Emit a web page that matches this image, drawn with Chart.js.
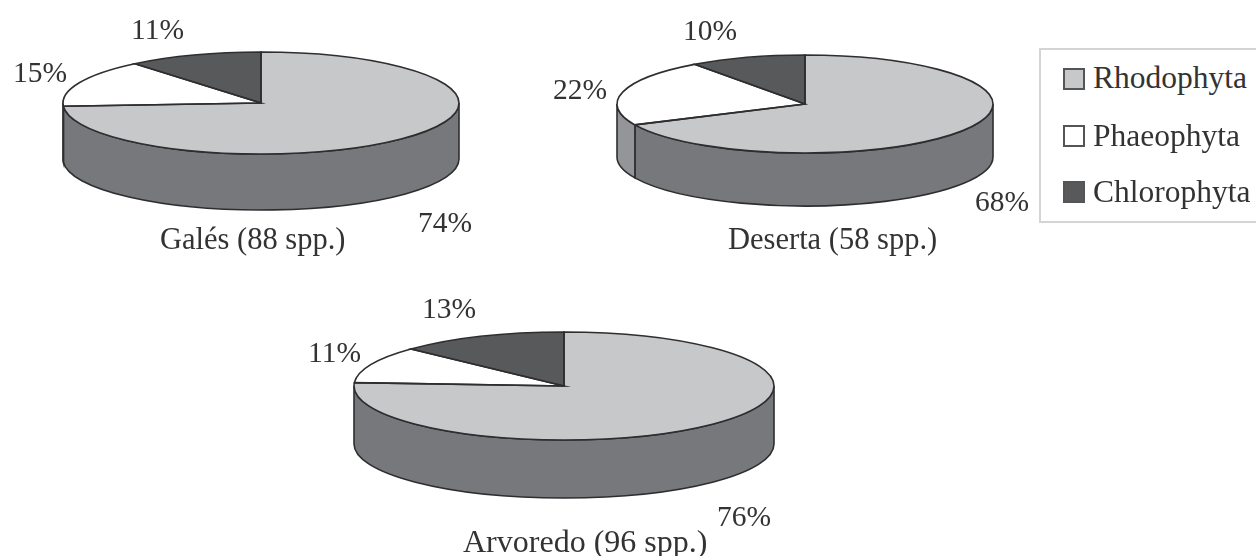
<!DOCTYPE html>
<html>
<head>
<meta charset="utf-8">
<title>Algae groups per island</title>
<script src="https://cdn.jsdelivr.net/npm/chart.js@4"></script>
<style>
  html, body { margin: 0; padding: 0; background: #fff; }
  body { position: relative; width: 1256px; height: 556px; overflow: hidden; }
  canvas { position: absolute; }
  .txt {
    position: absolute;
    font-family: "Liberation Serif", serif;
    line-height: 1;
    color: #333335;
    white-space: nowrap;
  }
  #legendBox {
    position: absolute;
    left: 1039px;
    top: 48px;
    width: 260px;
    height: 171px;
    border: 2px solid #d4d4d4;
    background: #fff;
  }
  .swatch {
    position: absolute;
    left: 1063px;
    width: 18px;
    height: 18px;
    border: 2px solid #555557;
  }
</style>
</head>
<body>
<script>
// Three tilted pies, one per island, plus a shared legend.

// ============================
// DATA
// ============================
const groups = ["Rhodophyta", "Phaeophyta", "Chlorophyta"];
const galesValues = [74, 15, 11];
const desertaValues = [68, 22, 10];
const arvoredoValues = [76, 11, 13];
const galesTitle = "Galés (88 spp.)";
const desertaTitle = "Deserta (58 spp.)";
const arvoredoTitle = "Arvoredo (96 spp.)";

// ============================
// STYLE
// ============================
const topColors = ["#c7c8ca", "#ffffff", "#58595b"];
const wallColors = ["#77787b", "#939598", "#77787b"];
const outlineColor = "#2e2e30";
const outlineWidth = 1.6;
const percentSize = 29.5;
const legendSize = 31.5;

// rx/ry = ellipse radii of the top face, depth = wall height
const pies = [
  {
    values: galesValues, title: galesTitle, cx: 261, cy: 103, rx: 198, ry: 51, depth: 56,
    labels: [[418, 232.5], [13, 83], [131, 40]], titlePos: [160, 249.5], titleSize: 30.5
  },
  {
    values: desertaValues, title: desertaTitle, cx: 805, cy: 104, rx: 188, ry: 49, depth: 53,
    labels: [[975, 212], [553, 100], [683, 41]], titlePos: [728, 250], titleSize: 30.5
  },
  {
    values: arvoredoValues, title: arvoredoTitle, cx: 564, cy: 386, rx: 210, ry: 54, depth: 58,
    labels: [[717, 526.5], [308, 363], [422, 319]], titlePos: [463, 552], titleSize: 32
  }
];

const legendRows = [{ swatch: 68, baseline: 88.5 }, { swatch: 125, baseline: 146 }, { swatch: 181, baseline: 202 }];

// ============================
// HELPERS
// ============================
// Baseline sits 0.838 of the font size below the top of a line-height:1 box
function addText(text, left, baseline, fontSize) {
  const el = document.createElement("div");
  el.className = "txt";
  el.textContent = text;
  el.style.left = left + "px";
  el.style.top = (baseline - fontSize * 0.838) + "px";
  el.style.fontSize = fontSize + "px";
  el.style.zIndex = 5;
  document.body.appendChild(el);
  return el;
}

// Side wall under the front half of the ellipse, built from the arc elements
function drawWalls(chart, pie) {
  const ctx = chart.ctx;
  const arcs = chart.getDatasetMeta(0).data;

  arcs.forEach((arc, i) => {
    const start = Math.max(arc.startAngle, 0);
    const end = Math.min(arc.endAngle, Math.PI);
    if (end <= start) return;

    ctx.beginPath();
    ctx.ellipse(arc.x, arc.y, arc.outerRadius, pie.ry, 0, start, end);
    ctx.ellipse(arc.x, arc.y + pie.depth, arc.outerRadius, pie.ry, 0, end, start, true);
    ctx.closePath();
    ctx.fillStyle = wallColors[i];
    ctx.fill();
    ctx.lineWidth = outlineWidth;
    ctx.strokeStyle = outlineColor;
    ctx.stroke();
  });
}

// Outlines are stroked after the squash so the line stays an even width
function drawOutlines(chart, pie) {
  const ctx = chart.ctx;
  const arcs = chart.getDatasetMeta(0).data;

  ctx.lineWidth = outlineWidth;
  ctx.strokeStyle = outlineColor;
  arcs.forEach(arc => {
    ctx.beginPath();
    ctx.moveTo(arc.x, arc.y);
    ctx.ellipse(arc.x, arc.y, arc.outerRadius, pie.ry, 0, arc.startAngle, arc.endAngle);
    ctx.closePath();
    ctx.stroke();
  });
}

const tiltPlugin = {
  id: "tilt",
  beforeDatasetsDraw(chart, args, opts) {
    const pie = opts.pie;
    const ctx = chart.ctx;
    const first = chart.getDatasetMeta(0).data[0];

    drawWalls(chart, pie);

    ctx.save();
    ctx.translate(first.x, first.y);
    ctx.scale(1, pie.ry / pie.rx);
    ctx.translate(-first.x, -first.y);
  },
  afterDatasetsDraw(chart, args, opts) {
    chart.ctx.restore();
    drawOutlines(chart, opts.pie);
  }
};

// ============================
// CHARTS
// ============================
function renderPie(pie) {
  const size = pie.rx * 2 + 20;
  const canvas = document.createElement("canvas");
  canvas.width = size;
  canvas.height = size;
  canvas.style.left = (pie.cx - size / 2) + "px";
  canvas.style.top = (pie.cy - size / 2) + "px";
  document.body.appendChild(canvas);

  new Chart(canvas.getContext("2d"), {
    type: "pie",
    data: {
      labels: groups,
      datasets: [
        {
          data: pie.values,
          backgroundColor: topColors,
          borderWidth: 0
        }
      ]
    },
    options: {
      responsive: false,
      animation: false,
      radius: pie.rx,
      plugins: {
        legend: { display: false },
        tooltip: { enabled: false },
        tilt: { pie: pie }
      }
    },
    plugins: [tiltPlugin]
  });

  pie.values.forEach((value, i) => {
    addText(value + "%", pie.labels[i][0], pie.labels[i][1], percentSize);
  });
  addText(pie.title, pie.titlePos[0], pie.titlePos[1], pie.titleSize);
}

function renderLegend() {
  const box = document.createElement("div");
  box.id = "legendBox";
  document.body.appendChild(box);

  groups.forEach((name, i) => {
    const swatch = document.createElement("div");
    swatch.className = "swatch";
    swatch.style.top = legendRows[i].swatch + "px";
    swatch.style.background = topColors[i];
    swatch.style.zIndex = 5;
    document.body.appendChild(swatch);

    addText(name, 1093, legendRows[i].baseline, legendSize);
  });
}

pies.forEach(renderPie);
renderLegend();
</script>
</body>
</html>
